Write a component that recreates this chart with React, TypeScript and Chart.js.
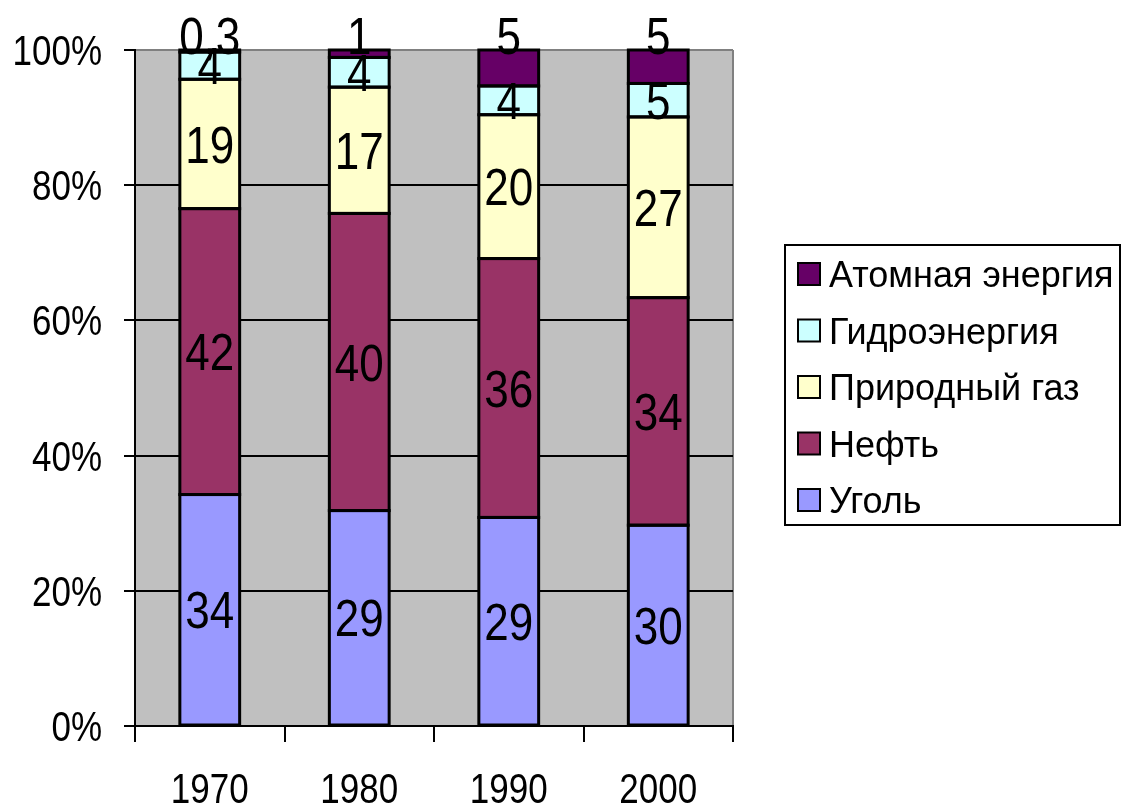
import React, { useEffect, useRef } from "react";
import { Chart, registerables } from "chart.js";

Chart.register(...registerables);

const years = ["1970", "1980", "1990", "2000"];
const coal = [34, 29, 29, 30];
const oil = [42, 40, 36, 34];
const gas = [19, 17, 20, 27];
const hydro = [4, 4, 4, 5];
const nuclear = [0.3, 1, 5, 5];
const yTicks = [0, 20, 40, 60, 80, 100];

const seriesNames = ["Уголь", "Нефть", "Природный газ", "Гидроэнергия", "Атомная энергия"];
const seriesColors = ["#9999FF", "#993366", "#FFFFCC", "#CCFFFF", "#660066"];
const seriesValues = [coal, oil, gas, hydro, nuclear];

const FONT = '"Liberation Sans", Arial, sans-serif';

function drawStretched(ctx: any, txt: string, x: number, cy: number, size: number, sy: number, align: string) {
  ctx.save();
  ctx.font = `${size}px ${FONT}`;
  ctx.textAlign = align;
  ctx.textBaseline = "alphabetic";
  ctx.translate(x, cy);
  ctx.scale(1, sy);
  ctx.fillText(txt, 0, (0.716 * size) / 2);
  ctx.restore();
}

export default function App() {
  const ref = useRef<HTMLCanvasElement | null>(null);

  useEffect(() => {
    const totals = years.map((_, i) => seriesValues.reduce((s, arr) => s + arr[i], 0));
    const datasets = seriesValues.map((arr, k) => ({
      label: seriesNames[k],
      data: arr.map((v, i) => (v / totals[i]) * 100),
      raw: arr,
      backgroundColor: seriesColors[k],
      borderWidth: 0,
      barPercentage: 0.4,
      categoryPercentage: 1,
    }));

    const bgPlugin = {
      id: "bgPlugin",
      beforeDraw(chart: any) {
        const { ctx, chartArea: a } = chart;
        ctx.save();
        ctx.fillStyle = "#FFFFFF";
        ctx.fillRect(0, 0, chart.width, chart.height);
        ctx.fillStyle = "#C0C0C0";
        ctx.fillRect(a.left, a.top, a.right - a.left, a.bottom - a.top);
        ctx.strokeStyle = "#808080";
        ctx.lineWidth = 2;
        ctx.beginPath();
        ctx.moveTo(a.right, a.top);
        ctx.lineTo(a.right, a.bottom);
        ctx.stroke();
        ctx.restore();
      },
    };

    const outlinePlugin = {
      id: "outlinePlugin",
      afterDatasetsDraw(chart: any) {
        const { ctx, chartArea: a } = chart;
        ctx.save();
        ctx.strokeStyle = "#000000";
        ctx.lineWidth = 3;
        chart.data.datasets.forEach((_: any, di: number) => {
          const meta = chart.getDatasetMeta(di);
          meta.data.forEach((el: any) => {
            const l = el.x - el.width / 2;
            const t = Math.min(el.y, el.base);
            const b = Math.max(el.y, el.base);
            ctx.strokeRect(l, t, el.width, b - t);
          });
        });
        // axis lines on top
        ctx.lineWidth = 2;
        ctx.beginPath();
        ctx.moveTo(a.left, a.bottom);
        ctx.lineTo(a.right, a.bottom);
        ctx.stroke();
        ctx.restore();
      },
    };

    const labelPlugin = {
      id: "labelPlugin",
      afterDraw(chart: any) {
        const { ctx, chartArea: a } = chart;
        ctx.save();
        ctx.fillStyle = "#000000";
        // data labels
        chart.data.datasets.forEach((ds: any, di: number) => {
          const meta = chart.getDatasetMeta(di);
          meta.data.forEach((el: any, i: number) => {
            const txt = String(ds.raw[i]).replace(".", ",");
            let cy = (el.y + el.base) / 2;
            if (di === chart.data.datasets.length - 1) cy = a.top - 15;
            drawStretched(ctx, txt, el.x, cy, 44, 1.18, "center");
          });
        });
        // y tick labels
        const ys = chart.scales.y;
        yTicks.forEach((v) => {
          drawStretched(ctx, `${v}%`, 102, ys.getPixelForValue(v), 35, 1.2, "right");
        });
        // x tick labels
        const xs = chart.scales.x;
        years.forEach((lab, i) => {
          drawStretched(ctx, lab, xs.getPixelForValue(i), 788, 35, 1.2, "center");
        });
        // legend
        ctx.strokeStyle = "#000000";
        ctx.lineWidth = 2;
        ctx.strokeRect(785, 245, 335, 280);
        const dsList = chart.data.datasets.slice().reverse();
        dsList.forEach((ds: any, j: number) => {
          const cy = 274 + j * 56.5;
          ctx.fillStyle = ds.backgroundColor;
          ctx.fillRect(798, cy - 11, 22, 22);
          ctx.strokeStyle = "#000000";
          ctx.lineWidth = 2;
          ctx.strokeRect(798, cy - 11, 22, 22);
          ctx.fillStyle = "#000000";
          drawStretched(ctx, ds.label, 829, cy, 36, 1.03, "left");
        });
        ctx.restore();
      },
    };

    const chart = new Chart(ref.current as HTMLCanvasElement, {
      type: "bar",
      data: { labels: years, datasets: datasets as any },
      options: {
        animation: false,
        responsive: false,
        maintainAspectRatio: false,
        layout: { padding: { top: 50, right: 389, left: 0, bottom: 0 } },
        plugins: { legend: { display: false }, tooltip: { enabled: false } },
        scales: {
          x: {
            stacked: true,
            offset: true,
            afterFit(scale: any) {
              scale.height = 82;
            },
            grid: {
              offset: true,
              drawOnChartArea: false,
              drawTicks: true,
              tickLength: 16,
              tickColor: "#000000",
              lineWidth: 2,
              color: "#000000",
            },
            border: { display: true, color: "#000000", width: 2 },
            ticks: {
              color: "rgba(0,0,0,0)",
              font: { family: FONT, size: 35 },
              padding: 22,
              maxRotation: 0,
            },
          },
          y: {
            stacked: true,
            min: 0,
            max: 100,
            afterFit(scale: any) {
              scale.width = 135;
            },
            afterBuildTicks(scale: any) {
              scale.ticks = yTicks.map((v) => ({ value: v }));
            },
            grid: {
              color: (c: any) => (c.tick && c.tick.value === 100 ? "#808080" : "#000000"),
              tickColor: "#000000",
              lineWidth: 2,
              drawTicks: true,
              tickLength: 11,
            },
            border: { display: true, color: "#000000", width: 2 },
            ticks: {
              color: "rgba(0,0,0,0)",
              font: { family: FONT, size: 35 },
              padding: 22,
              callback: (v: any) => `${v}%`,
            },
          },
        },
      },
      plugins: [bgPlugin, outlinePlugin, labelPlugin],
    });
    return () => chart.destroy();
  }, []);

  return (
    <div style={{ position: "absolute", left: 0, top: 0, width: 1122, height: 808 }}>
      <canvas ref={ref} width={1122} height={808} style={{ display: "block" }} />
    </div>
  );
}
